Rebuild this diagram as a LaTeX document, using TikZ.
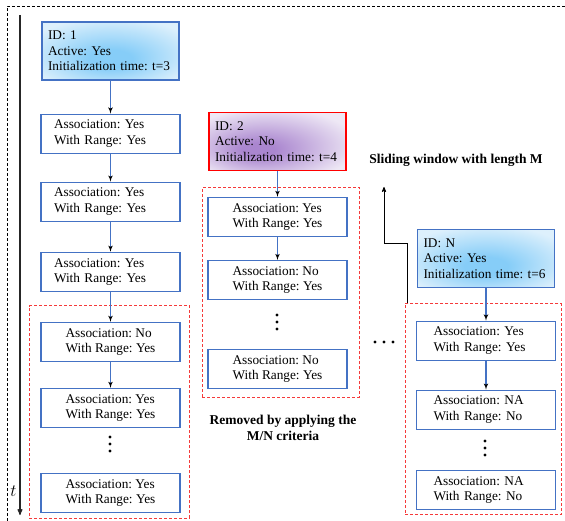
\documentclass[tikz,border=0pt]{standalone}
\usepackage{fontspec}
\setmainfont{Liberation Serif}
\usepackage{tikz}
\usetikzlibrary{arrows,positioning,shapes,fit}
\definecolor{trk}{HTML}{4472C4}
\definecolor{trkin}{HTML}{86CDF8}
\definecolor{trkout}{HTML}{DDF0FC}
\definecolor{dropin}{HTML}{AA86CF}
\definecolor{dropout}{HTML}{EEE8F5}
\definecolor{winred}{HTML}{F53A3A}
\pgfdeclareradialshading{trkshade}{\pgfpoint{0bp}{-8bp}}{color(0bp)=(trkin); color(8bp)=(trkin); color(32bp)=(trkout); color(50bp)=(trkout)}
\pgfdeclareradialshading{dropshade}{\pgfpoint{-8bp}{-8bp}}{color(0bp)=(dropin); color(6bp)=(dropin); color(32bp)=(dropout); color(50bp)=(dropout)}
\tikzset{
    %Define standard arrow tip
    >=latex',
    %Define style for boxes
    track/.style={
   	rectangle,
   	draw=trk, line width=1.1pt,
   	inner xsep=6pt,
   	text width=125pt,
   	minimum height=58pt,
   	font=\fontsize{13.3}{15.5}\selectfont\frenchspacing,
   	align=left,
   	shading=trkshade
   },
    dropped/.style={
   	track,
   	draw=red, line width=1.8pt,
   	shading=dropshade
   },
    rangebox/.style={
   	rectangle,
   	draw=trk, line width=1.1pt,
   	minimum width=139pt,
   	minimum height=39pt,
   	font=\fontsize{13.3}{15.5}\selectfont\frenchspacing,
   	align=left,
   	fill=white
   },
    rangeleft/.style={
   	rangebox,
   	inner xsep=13pt,
   	text width=113pt
   },
    rangeright/.style={
   	rangebox,
   	inner xsep=17pt,
   	text width=105pt
   },
    window/.style={
   	rectangle,
   	draw=winred, line width=0.8pt,
   	dash pattern=on 3pt off 2pt,
   	inner sep=0pt
   },
    % Define arrow style
    flow/.style={
           ->,
           draw=trk,
           line width=1.1pt},
    caption/.style={
   	font=\bfseries\fontsize{13.5}{16.5}\selectfont,
   	align=center
   },
}

\begin{document}
\begin{tikzpicture}[x=1pt,y=1pt]
\useasboundingbox (0,0) rectangle (565,-521);
%frame and time axis
\draw[line width=0.8pt, dash pattern=on 3pt off 2pt] (7,-521) -- (7,-6) -- (565,-6);
\coordinate (tstart) at (20,-15);
\coordinate (tend) at (20,-515);
\draw[-stealth', line width=1.1pt, black!85] (tstart) -- (tend);
\node[font=\fontsize{18}{18}\selectfont] (tlabel) at (13.5,-491) {$t$};
%first track
\node[track, shade](id1) at (110.5,-51){ID: 1\\Active: Yes\\Initialization time: t=3};
\node[rangeleft, below=33pt of id1](a11){Association: Yes\\With Range: Yes};
\node[rangeleft, below=28pt of a11](a12){Association: Yes\\With Range: Yes};
\node[rangeleft, below=30pt of a12](a13){Association: Yes\\With Range: Yes};
\node[rangebox, below=30pt of a13](a14){Association: No\\With Range: Yes};
\node[rangebox, below=26pt of a14](a15){Association: Yes\\With Range: Yes};
\node[rangebox, below=45pt of a15](a16){Association: Yes\\With Range: Yes};
\coordinate (w1a) at ([xshift=-11pt,yshift=16pt]a14.north west);
\coordinate (w1b) at ([xshift=9pt,yshift=-5pt]a16.south east);
\node[window, fit=(w1a)(w1b)](win1){};
%second track
\node[dropped, shade](id2) at (277.5,-141.5){ID: 2\\Active: No\\Initialization time: t=4};
\node[rangebox, below=25.5pt of id2](a21){Association: Yes\\With Range: Yes};
\node[rangebox, below=23pt of a21](a22){Association: No\\With Range: Yes};
\node[rangebox, below=49pt of a22](a23){Association: No\\With Range: Yes};
\coordinate (w2a) at ([xshift=-5pt,yshift=9pt]a21.north west);
\coordinate (w2b) at ([xshift=12pt,yshift=-8pt]a23.south east);
\node[window, fit=(w2a)(w2b)](win2){};
\node[caption](removed) at (283,-428){Removed by applying the\\M/N criteria};
%last track
\node[track, shade](idN) at (486,-258.5){ID: N\\Active: Yes\\Initialization time: t=6};
\node[rangeright, below=32.5pt of idN](a31){Association: Yes\\With Range: Yes};
\node[rangeright, below=29pt of a31](a32){Association: NA\\With Range: No};
\node[rangeright, below=40pt of a32](a33){Association: NA\\With Range: No};
\coordinate (w3a) at ([xshift=-11pt,yshift=17pt]a31.north west);
\coordinate (w3b) at ([xshift=5pt,yshift=-5pt]a33.south east);
\node[window, fit=(w3a)(w3b)](win3){};
%sliding window
\node[caption](slidetxt) at (456,-160){Sliding window with length M};
\coordinate (slide) at (384,-187);
\draw[-stealth', line width=0.8pt] ([xshift=3pt]win3.north west) -- ++(0,60) -| (slide);
%gaps
\coordinate (gap1) at (110,-437);
\coordinate (gap2) at (277,-315);
\coordinate (gap3) at (485,-441);
\coordinate (more) at (375,-342);
\foreach \g in {gap1,gap2,gap3}
   \foreach \d in {0,7,14}
      \fill ([yshift=-\d pt]\g) circle (1.7pt);
\foreach \d in {0,9,18}
   \fill ([xshift=\d pt]more) circle (1.7pt);
%edges
\path[flow]
(id1) edge (a11)
(a11) edge (a12)
(a12) edge (a13)
(a13) edge (a14)
(a14) edge (a15)
(id2) edge (a21)
(a21) edge (a22)
(idN) edge (a31)
(a31) edge (a32);
\end{tikzpicture}
\end{document}
